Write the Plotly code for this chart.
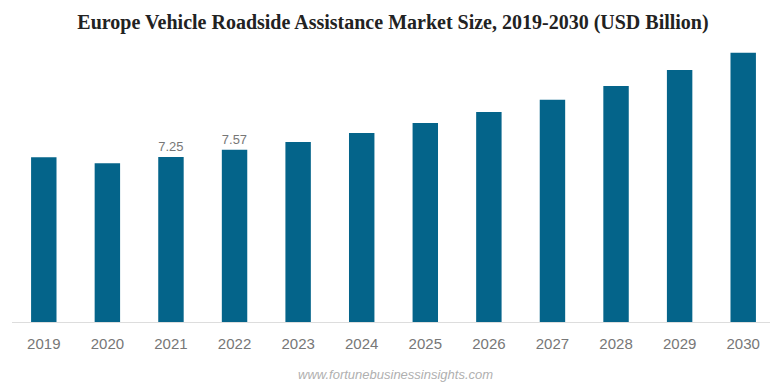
import plotly.graph_objects as go

years = ["2019", "2020", "2021", "2022", "2023", "2024", "2025", "2026", "2027", "2028", "2029", "2030"]
values = [7.24, 6.97, 7.25, 7.57, 7.91, 8.30, 8.74, 9.23, 9.77, 10.37, 11.07, 11.83]
labels = ["", "", "7.25", "7.57", "", "", "", "", "", "", "", ""]

fig = go.Figure(go.Bar(
    x=years, y=values, text=labels, textposition="outside",
    textfont=dict(family="Liberation Sans, Arial", size=14, color="#777777"),
    marker=dict(color="#04648A", line=dict(width=0)),
    cliponaxis=False,
))

fig.update_layout(
    width=770, height=379,
    margin=dict(l=4, r=3, t=37, b=65),
    paper_bgcolor="white", plot_bgcolor="white",
    bargap=0.6,
    showlegend=False,
    title=dict(
        text="<b>Europe Vehicle Roadside Assistance Market Size, 2019-2030 (USD Billion)</b>",
        x=0.5, xanchor="center", y=0.963, yanchor="middle",
        font=dict(family="Liberation Serif, Times New Roman", size=20, color="#222222"),
    ),
    xaxis=dict(
        showline=True, linecolor="#dddddd", linewidth=1, showgrid=False,
        ticks="", ticklabelstandoff=8,
        tickfont=dict(family="Liberation Sans, Arial", size=15, color="#777777"),
    ),
    yaxis=dict(range=[0, 12.17], visible=False, showgrid=False, zeroline=False),
    annotations=[dict(
        text="<i>www.fortunebusinessinsights.com</i>",
        xref="paper", yref="paper", x=0.502, y=-0.188, xanchor="center", yanchor="middle",
        showarrow=False,
        font=dict(family="Liberation Sans, Arial", size=13, color="#b0b0b0"),
    )],
)

fig.write_html("out.html")
